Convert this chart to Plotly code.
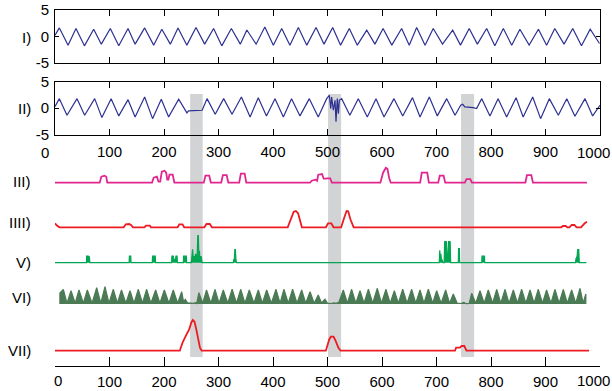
import plotly.graph_objects as go

# ---------------- data ----------------
# Panel I: extrema of the noisy oscillation
sig1_x = [0, 8, 24, 38.5, 54, 71, 85, 101.5, 117, 134, 147, 164.5, 181, 196, 211.6, 225.7, 242,
          258.7, 274.6, 291, 306, 323.6, 340, 352, 369, 385, 400.6, 416, 431, 446.5, 462, 479,
          493.6, 509.5, 524, 540, 554.7, 572, 587, 602, 618, 636, 650, 663.6, 679, 694, 711,
          729.7, 744, 760, 775, 792, 807, 822.6, 838, 853, 870, 887, 902, 917, 934, 950, 966, 982, 999]
sig1_y = [0.2, 1.6, -1.67, 1.48, -1.8, 1.35, -1.48, 1.48, -1.8, 1.48, -1.48, 1.6, -1.67, 1.35, -1.48,
          1.6, -1.67, 1.67, -1.48, 1.48, -1.8, 1.48, -1.48, 1.2, -1.48, 1.79, -1.67, 1.48, -1.67,
          1.67, -1.67, 1.67, -1.48, 1.67, -1.67, 1.48, -1.67, 1.16, -1.48, 1.48, -1.67, 1.48, -1.67,
          1.67, -1.67, 1.48, -1.48, 1.16, -1.67, 1.48, -1.48, 1.48, -1.8, 1.48, -1.67, 1.35, -1.67,
          1.35, -1.67, 1.48, -1.48, 1.48, -1.8, 1.35, -1.35]

# Panel II: same kind of signal with three corrupted stretches
sig2_x = [0, 8, 22, 40.4, 54.4, 72.8, 86, 103, 117, 134, 147, 164.5, 179, 195, 208.5, 227, 242, 245,
          270, 279, 294, 309.5, 324.8, 342, 358, 373, 388, 403.7, 419, 434, 449.5, 466.6, 483, 498.5,
          503.4, 506, 507.6, 510.7, 513.8, 515.6, 518, 520, 521.7, 526, 541, 556.5, 573, 589, 603.7,
          622, 638, 656, 669.7, 686.8, 701.5, 718.7, 734, 744.4, 748, 752, 767.5, 773.6, 783, 798,
          813, 828.7, 846, 859, 876.5, 891, 907, 923.5, 939, 954, 972.5, 986.5, 1000]
sig2_y = [0.3, 1.79, -1.35, 1.79, -1.35, 1.79, -1.8, 1.79, -1.48, 1.6, -1.67, 2.1, -2.0, 1.67, -1.67,
          1.67, -0.91, -0.53, -0.41, 1.79, -1.16, 1.79, -1.16, 2.1, -1.67, 1.98, -1.48, 1.79, -1.67,
          1.79, -1.48, 1.79, -1.67, 1.79, 2.42, -0.09, 2.1, -0.41, 1.48, -2.6, 1.79, -1.04, 1.48,
          1.79, -1.35, 1.79, -1.67, 1.79, -1.67, 1.79, -1.48, 1.98, -1.67, 2.1, -1.48, 1.79, -1.35,
          0.53, 0.72, 0.22, 0.1, -0.09, 1.79, -1.48, 1.79, -1.67, 1.98, -1.67, 2.1, -2.0, 1.79,
          -1.35, 1.79, -1.54, 1.79, -1.48, 0.53]

# Trace III (magenta)
t3_x = [0, 82, 85, 91, 94, 96, 178, 181, 187, 190, 193, 196, 201, 204, 206, 208, 210, 216, 219,
        273, 276, 283, 286, 305, 308, 315, 318, 338, 341, 348, 351, 468, 471, 478, 481, 483, 490,
        493, 497, 499, 505, 508, 597, 602, 607, 610, 613, 616, 670, 673, 683, 686, 703, 706, 713,
        716, 752, 755, 762, 765, 863, 866, 874, 877, 976]
t3_y = [0, 0, 6, 7, 6, 0, 0, 5, 6, 1, 1, 11, 12, 10, 3, 3, 8, 8, 0,
        0, 7, 7, 0, 0, 7.5, 7.5, 0, 0, 9, 9, 0, 0, 2, 3, 2, 8, 8.7,
        4, 4, 4.3, 4.3, 0, 0, 10, 15, 14, 5, 0, 0, 10, 10, 0, 0, 7, 7,
        0, 0, 3.5, 3.5, 0, 0, 7.5, 7.5, 0, 0]

# Trace IIII (red)
t4_x = [0, 3, 8, 126, 130, 136, 140, 143, 164, 167, 174, 176, 225, 228, 234, 237, 274, 278, 284, 288,
        427, 433, 438, 442, 446, 453, 497, 501, 507, 511, 525, 531, 535, 538, 542, 548, 929, 932,
        937, 940, 944, 948, 953, 957, 965, 972, 976]
t4_y = [4, 2, 0, 0, 3, 3.3, 2, 0, 0, 1.7, 1.7, 0, 0, 3, 3, 0, 0, 3.3, 3.3, 0,
        0, 8, 15.5, 16.3, 14, 0, 0, 4, 4, 0, 0, 10, 16.3, 16, 8, 0, 0, 1.3,
        1.3, 0, 0, 2.3, 2.3, 0, 0, 4, 5.6]

# Trace V (green spikes)
t5_x = [0, 58, 58, 61, 61, 63, 64, 136, 136.5, 139, 139.5, 178.5, 179, 184, 184.5,
        214, 214.5, 217, 218, 221, 222, 224, 224.5, 235.5, 236, 241, 241.5,
        250, 251, 252.5, 253.5, 255, 256, 258, 259, 261, 262, 263, 264, 265, 266, 268, 270,
        327, 328, 329, 330, 331, 332, 333,
        705, 706, 707, 708, 709, 710, 712, 714, 715, 718, 719, 721, 722, 725, 726,
        740, 740.5, 742, 742.5, 783, 783.5, 788, 788.5, 955, 956, 957, 958, 959, 961, 962, 975]
t5_y = [0, 0, 6.5, 6.5, 4, 6.5, 0, 0, 6.5, 6.5, 0, 0, 6.5, 6.5, 0,
        0, 6.5, 6.5, 3, 3, 6.5, 6.5, 0, 0, 6.5, 6.5, 0,
        0, 5, 13.5, 5, 6.5, 3, 9, 4, 9, 27, 27, 6, 12, 3, 6.5, 0,
        0, 3, 3, 13, 13, 3, 0,
        0, 12.5, 3, 9, 3, 3, 0, 0, 21, 21, 8, 8, 21, 21, 0,
        0, 14, 14, 0, 0, 6.5, 6.5, 0, 0, 4, 6.5, 6.5, 13, 13, 0, 0]

# Trace VI (dark green envelope)
t6_x = [9, 9, 15.3, 22, 29.4, 37, 44, 52, 59.3, 68, 76.5, 84, 91.7, 99, 107, 114.5, 122, 130,
        137.6, 145, 152.9, 160.5, 168, 176, 184.7, 192.5, 200.6, 209, 217, 225, 232.4, 236, 239,
        243, 250, 254, 258, 260, 264, 271, 278, 286, 293.6, 301, 308.8, 317, 325, 333, 340.7,
        348.5, 356.5, 365, 373, 380.5, 388.4, 397, 405.5, 413, 420, 428, 436, 444, 452.6, 460,
        468, 475.5, 483, 489, 495.4, 500, 507, 512, 516, 521, 529, 536.5, 544.3, 552, 559.6, 567,
        575, 583, 591.4, 599, 607.3, 615, 622.6, 630, 638, 646, 654.4, 662, 669.7, 677, 685, 693,
        700.3, 708.5, 716.8, 724, 730.8, 738, 745, 750, 755, 760, 764.5, 772, 779.8, 787.5, 795,
        803, 810.5, 818, 825.7, 833, 841, 848.5, 856.3, 864, 871.6, 879, 886.8, 894.5, 902, 910,
        917.4, 925, 932.7, 940, 948, 955.5, 963.3, 969, 974, 974]
t6_y = [0, 11, 14.7, 0.8, 13.3, 0.8, 14, 0.8, 14, 0.8, 16.3, 0.8, 17.3, 0.8, 14.7, 0.8, 14, 0.8,
        13.3, 0.8, 14.7, 0.8, 14.7, 0.8, 14, 0.8, 14, 0.8, 14, 0.8, 12.3, 2, 4.7,
        1.2, 1, 0.6, 1.3, 0.5, 11.3, 0.8, 14, 0.8, 14.7, 0.8, 14, 0.8, 14.7, 0.8, 14.7,
        0.8, 14, 0.8, 14, 0.8, 14, 0.8, 14.7, 0.8, 14.7, 0.8, 14.7, 0.8, 14, 0.8,
        12.3, 0.8, 9, 1, 4.7, 0.8, 0.5, 1.2, 0.6, 2, 14, 0.8, 14.7, 0.8, 13.3, 0.8,
        14.7, 0.8, 15.7, 0.8, 14.7, 0.8, 13.3, 0.8, 14.7, 0.8, 14.7, 0.8, 14, 0.8, 14.7, 0.8,
        13.3, 0.8, 14, 0.8, 10, 0.8, 0.5, 1.5, 0.3, 0.5, 10.7, 0.8, 13.3, 0.8, 14,
        0.8, 14.7, 0.8, 14.7, 0.8, 14, 0.8, 14.7, 0.8, 14, 0.8, 14.7, 0.8, 14, 0.8,
        14.7, 0.8, 14.7, 0.8, 14, 0.8, 15.7, 0.8, 10, 0]

# Trace VII (red)
t7_x = [0, 229, 234, 238, 242, 246, 250, 253, 256, 259, 263, 266, 269, 497, 503, 506, 511, 514,
        520, 524, 734, 736, 743, 746, 751, 755, 980]
t7_y = [0, 0, 8, 13.5, 17, 21, 28, 30.7, 29, 22, 10, 3, 0, 0, 11, 14, 14, 11,
        3, 0, 0, 3, 3, 4.7, 4.7, 0, 0]

# Highlighted intervals (gray bands)
band_start = [248, 501, 745]
band_end = [271, 525, 769]

# Axis ticks / labels
x_tick_vals = [0, 100, 200, 300, 400, 500, 600, 700, 800, 900, 1000]
x_tick_text = ["0", "100", "200", "300", "400", "500", "600", "700", "800", "900", "1000"]
y_tick_vals = [-5, 0, 5]
y_tick_text = ["-5", "0", "5"]
row_labels = ["I)", "II)", "III)", "IIII)", "V)", "VI)", "VII)"]

# ---------------- layout geometry ----------------
W, H = 612, 391
ML, MR, MT, MB = 55, 12, 10, 25
PH = H - MT - MB          # plot-area height in px
BOTTOM = H - MB           # pixel y of the bottom axis line


def frac(py):
    return (BOTTOM - py) / PH


def dom(top_px, bottom_px):
    return [max(0.0, frac(bottom_px)), min(1.0, frac(top_px))]


NAVY = "#2E3192"
MAGENTA = "#E2268F"
RED = "#ED1C24"
GREEN = "#00A651"
DKGREEN = "#4B7B55"
GRAY = "#D1D3D4"
FONT = dict(family="Liberation Sans, Arial, sans-serif", size=15, color="black")

fig = go.Figure()
fig.add_trace(go.Scatter(x=sig1_x, y=sig1_y, xaxis="x", yaxis="y", mode="lines",
                         line=dict(color=NAVY, width=1.2)))
fig.add_trace(go.Scatter(x=sig2_x, y=sig2_y, xaxis="x2", yaxis="y2", mode="lines",
                         line=dict(color=NAVY, width=1.2)))

# lower traces: (x, y, color, baseline px, max height, axis id, style)
lower = [
    (t3_x, t3_y, MAGENTA, 182.7, 16, "y3", "line"),
    (t4_x, t4_y, RED, 227.3, 17, "y4", "line"),
    (t5_x, t5_y, GREEN, 262.7, 28, "y5", "fill"),
    (t6_x, t6_y, DKGREEN, 304.0, 18, "y6", "fill"),
    (t7_x, t7_y, RED, 350.7, 32, "y7", "line"),
]
layout_axes = {}
for xs, ys, col, base, hmax, yid, style in lower:
    kw = dict(x=xs, y=ys, xaxis="x3", yaxis=yid, mode="lines",
              line=dict(color=col, width=1.8 if style == "line" else 1.2))
    if style == "fill":
        kw["fill"] = "tozeroy"
        kw["fillcolor"] = col
    fig.add_trace(go.Scatter(**kw))
    layout_axes["yaxis" + yid[1:]] = dict(
        domain=dom(base - hmax - 3, base + 3), range=[-3, hmax + 3],
        visible=False, anchor="x3", fixedrange=True, automargin=False)

common_x = dict(range=[0, 1000], showgrid=False, zeroline=False, showline=True,
                linecolor="black", linewidth=1, ticks="inside", tickcolor="black",
                tickvals=x_tick_vals, tickfont=FONT, automargin=False)
common_y = dict(range=[-5, 5], showgrid=False, zeroline=False, showline=True,
                linecolor="black", linewidth=1, ticks="inside", tickcolor="black",
                ticklen=4, tickvals=y_tick_vals, ticktext=y_tick_text, tickfont=FONT,
                mirror="ticks", ticklabelstandoff=2, automargin=False)

mid_text = [""] + x_tick_text[1:-1] + [""]
bot_text = [""] + x_tick_text[1:-1] + [""]

fig.update_layout(
    template="none",
    width=W, height=H, margin=dict(l=ML, r=MR, t=MT, b=MB, autoexpand=False),
    paper_bgcolor="white", plot_bgcolor="rgba(0,0,0,0)",
    showlegend=False, font=FONT,
    xaxis=dict(common_x, domain=[0, 1], anchor="y", mirror="ticks", ticklen=6,
               showticklabels=False),
    yaxis=dict(common_y, domain=dom(10, 62.7), anchor="x"),
    xaxis2=dict(common_x, domain=[0, 1], anchor="y2", mirror="ticks", ticklen=6,
                ticktext=mid_text, ticklabelstandoff=3),
    yaxis2=dict(common_y, domain=dom(81.7, 134.5), anchor="x2"),
    xaxis3=dict(common_x, domain=[0, 1], anchor="free", position=0, ticklen=9,
                ticktext=bot_text, ticklabelstandoff=2),
    **layout_axes,
)

# gray bands
for s, e in zip(band_start, band_end):
    fig.add_shape(type="rect", xref="x3", yref="paper", x0=s, x1=e,
                  y0=frac(357), y1=frac(94), fillcolor=GRAY, line=dict(width=0),
                  layer="below")

# end tick labels, nudged to stay inside the figure as in the reference
fig.add_annotation(x=x_tick_vals[0], y=frac(152), xref="x2", yref="paper", text=x_tick_text[0],
                   showarrow=False, font=FONT, xanchor="center", yanchor="middle", xshift=-10)
fig.add_annotation(x=x_tick_vals[-1], y=frac(152), xref="x2", yref="paper", text=x_tick_text[-1],
                   showarrow=False, font=FONT, xanchor="center", yanchor="middle", xshift=-7)
fig.add_annotation(x=x_tick_vals[0], y=frac(380), xref="x3", yref="paper", text=x_tick_text[0],
                   showarrow=False, font=FONT, xanchor="center", yanchor="middle", xshift=3)
fig.add_annotation(x=x_tick_vals[-1], y=frac(380), xref="x3", yref="paper", text=x_tick_text[-1],
                   showarrow=False, font=FONT, xanchor="center", yanchor="middle", xshift=-7)

# row labels
row_y = [37, 108, 182, 222, 262, 297, 350]
for lab, py in zip(row_labels, row_y):
    fig.add_annotation(x=(33 - ML) / (W - ML - MR), y=frac(py), xref="paper", yref="paper",
                       text=lab, showarrow=False, font=FONT, xanchor="right", yanchor="middle")

fig.write_html("out.html", config={"displayModeBar": False},
               post_script="document.body.style.margin='0';document.body.style.overflow='hidden';")
